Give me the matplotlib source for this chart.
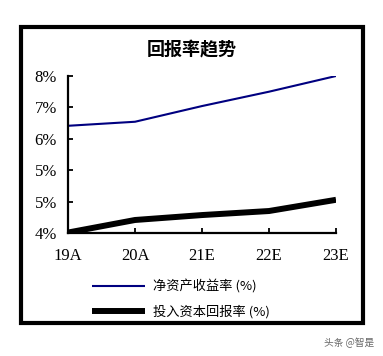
import numpy as np
import matplotlib
matplotlib.use('Agg')
import matplotlib.pyplot as plt
from matplotlib.patches import Rectangle

plt.rcParams['font.family'] = ['Liberation Serif', 'Noto Sans CJK SC', 'DejaVu Sans']

# data
years = ['19A', '20A', '21E', '22E', '23E']
roe = [6.44, 6.53, 6.88, 7.20, 7.55]     # 净资产收益率
roic = [4.06, 4.34, 4.45, 4.54, 4.79]    # 投入资本回报率
roe_label = '净资产收益率 (%)'
roic_label = '投入资本回报率 (%)'
title = '回报率趋势'

fig = plt.figure(figsize=(3.83, 3.56), dpi=100)
ax = fig.add_axes([68 / 383, 1 - 233 / 356, (336 - 68) / 383, (233 - 76) / 356])

x = np.arange(len(years))
l1, = ax.plot(x, roe, color='#000080', lw=1.5, solid_capstyle='butt')
l2, = ax.plot(x, roic, color='black', lw=4.3, solid_capstyle='butt')

ax.set_xlim(0, len(years) - 1)
ax.set_ylim(4.05, 7.55)
yt = np.linspace(4.05, 7.55, 6)
ax.set_yticks(yt)
ax.set_yticklabels([f'{v:.0f}%' for v in yt])
ax.set_xticks(x)
ax.set_xticklabels(years)

for s in ['top', 'right']:
    ax.spines[s].set_visible(False)
for s in ['left', 'bottom']:
    ax.spines[s].set_linewidth(1.6)
ax.tick_params(direction='in', length=3.5, width=1.3, labelsize=12)
ax.tick_params(axis='x', pad=11)
ax.tick_params(axis='y', pad=8)

fig.text(192 / 383, 1 - 50 / 356, title, ha='center', va='center',
         fontsize=13, fontweight='bold', family=['Noto Sans CJK SC'])

fig.legend([l1, l2], [roe_label, roic_label], loc='upper left',
           bbox_to_anchor=(80 / 383, 1 - 268 / 356), frameon=False,
           prop={'family': 'Noto Sans CJK SC', 'size': 9.5},
           handlelength=4.0, handletextpad=0.6, labelspacing=0.85)

# outer frame
fig.add_artist(Rectangle((21 / 383, 1 - 323 / 356), (363 - 21) / 383, (323 - 27) / 356,
                         transform=fig.transFigure, fill=False, lw=3, ec='black'))

fig.text(349 / 383, 1 - 343 / 356, '头条 @智是', ha='center', va='center',
         fontsize=7, color='#666666', family=['Noto Sans CJK SC'])

fig.savefig('out.png', dpi=100)
